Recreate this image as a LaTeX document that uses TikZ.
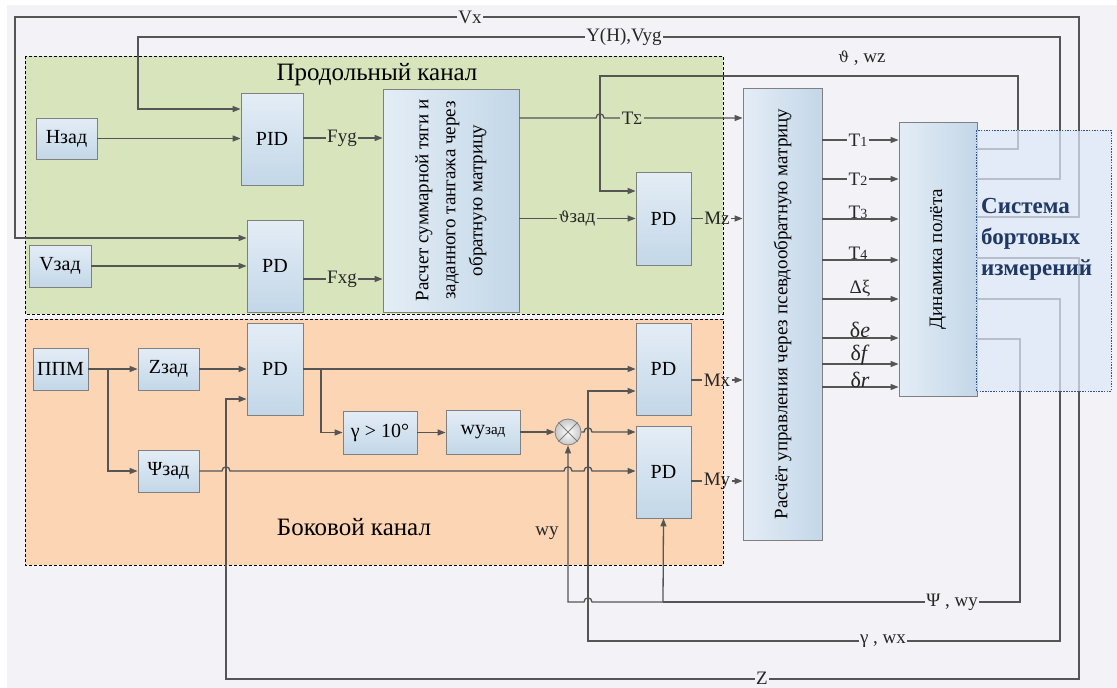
\documentclass[tikz,border=0pt]{standalone}
\usepackage{fontspec}
\setmainfont{Liberation Serif}
\newfontfamily\dvs{DejaVu Serif}
\usetikzlibrary{arrows.meta,calc}
\definecolor{bgc}{HTML}{F3F2F7}
\definecolor{grn}{HTML}{D8E4BC}
\definecolor{org}{HTML}{FCD5B4}
\definecolor{boxtop}{HTML}{E4EDF6}
\definecolor{boxbot}{HTML}{C3D7E8}
\definecolor{boxline}{HTML}{808080}
\definecolor{lc}{HTML}{555555}
\definecolor{sysfill}{HTML}{DCE9F8}
\definecolor{sysline}{HTML}{2F5597}
\definecolor{systext}{HTML}{1F3864}
\newcommand{\thsym}{{\dvs\fontsize{15}{15}\selectfont ϑ}}
\newcommand{\hopR}[2]{-- ({#1-4},#2) .. controls ({#1-4},{#2-5.5}) and ({#1+4},{#2-5.5}) .. ({#1+4},#2)}
\newcommand{\hopL}[2]{-- ({#1+4},#2) .. controls ({#1+4},{#2-5.5}) and ({#1-4},{#2-5.5}) .. ({#1-4},#2)}
\tikzset{
  blk/.style={draw=boxline, line width=0.8pt, top color=boxtop, bottom color=boxbot, inner sep=0pt, font=\fontsize{20}{22}\selectfont},
  vblk/.style={draw=boxline, line width=0.8pt, left color=boxtop, right color=boxbot, inner sep=0pt},
  ln/.style={draw=lc, line width=1.3pt},
  arr/.style={ln, -{Triangle[length=8pt,width=6pt]}},
  lab/.style={font=\fontsize{19}{21}\selectfont, inner sep=1.5pt, text=black!85},
  title/.style={font=\fontsize{25}{27}\selectfont},
  region/.style={draw=black, line width=0.9pt, dash pattern=on 3pt off 2pt},
  vtext/.style={rotate=90, align=center, font=\fontsize{19}{27}\selectfont}
}
\begin{document}
\begin{tikzpicture}[x=1pt,y=-1pt]
\useasboundingbox (0,0) rectangle (1117,688);
\fill[white] (0,0) rectangle (1117,688);
\fill[bgc] (7,5) rectangle (1117,688);
\draw[region, fill=grn] (25,56) rectangle (723,314);
\draw[region, fill=org] (25,319) rectangle (723,565);
\node[title] at (377,75) {Продольный канал};
\node[title] at (354,527) {Боковой канал};

% ---- blocks
\node[blk, minimum width=61, minimum height=41] (Hz) at (66.5,138.5) {Hзад};
\node[blk, minimum width=62, minimum height=92] (PID) at (272,139) {PID};
\node[blk, minimum width=62, minimum height=42] (Vz) at (60,266) {Vзад};
\node[blk, minimum width=56, minimum height=92] (PDx) at (275,266) {PD};
\node[vblk, minimum width=136, minimum height=223] (Calc) at (451,200.5) {};
\node[vtext] at (Calc) {Расчет суммарной тяги и\\заданного тангажа через\\обратную матрицу};
\node[blk, minimum width=55, minimum height=93] (PDz) at (663.5,218.5) {PD};
\node[vblk, minimum width=79, minimum height=452] (Pseudo) at (782.5,314) {};
\node[vtext] at (Pseudo) {Расчёт управления через псевдообратную матрицу};
\node[vblk, minimum width=78, minimum height=274] (Dyn) at (938,259) {};
\node[vtext] at (Dyn) {Динамика полёта};

\node[blk, minimum width=55, minimum height=42] (PPM) at (60.5,369) {ППМ};
\node[blk, minimum width=61, minimum height=42] (Zz) at (168.5,369) {Zзад};
\node[blk, minimum width=61, minimum height=42] (Psz) at (168.5,471) {Ψзад};
\node[blk, minimum width=56, minimum height=92] (PDl) at (275,369) {PD};
\node[blk, minimum width=74, minimum height=43] (Gam) at (380,432.5) {γ > 10°};
\node[blk, minimum width=74, minimum height=44] (Wyz) at (483,432) {wy{\fontsize{15}{15}\selectfont зад}};
\node[circle, draw=boxline, line width=0.8pt, minimum size=26, inner sep=0pt, inner color=white, outer color=black!22] (Mult) at (568,432) {};
\draw[boxline, line width=0.8pt] (Mult.north west) -- (Mult.south east) (Mult.north east) -- (Mult.south west);
\node[blk, minimum width=55, minimum height=92] (PDmx) at (663.5,369) {PD};
\node[blk, minimum width=55, minimum height=92] (PDmy) at (663.5,472) {PD};

% ---- longitudinal channel
\draw[arr] (Hz.east) -- (PID.west |- Hz.east);
\coordinate (fy) at (342,138);
\draw[arr] (PID.east |- fy) -- (Calc.west |- fy);
\node[lab, fill=grn] at (fy) {Fyg};
\draw[arr] (Vz.east) -- (PDx.west |- Vz.east);
\coordinate (fx) at (342,279);
\draw[arr] (PDx.east |- fx) -- (Calc.west |- fx);
\node[lab, fill=grn] at (fx) {Fxg};
\coordinate (ts) at (632,118);
\draw[arr] (Calc.east |- ts) \hopR{600}{118} -- (Pseudo.west |- ts);
\node[lab, fill=grn] at (ts) {T{\fontsize{15}{15}\selectfont Σ}};
\coordinate (thz) at (577,218.5);
\draw[arr] (Calc.east |- thz) -- (PDz.west |- thz);
\node[lab, fill=grn] at (thz) {\thsym зад};
\node[lab] (Mzl) at (717,218.5) {Mz};
\draw[ln] (PDz.east |- Mzl) -- (Mzl.west);
\draw[arr] (Mzl.east) -- (Pseudo.west |- Mzl);

% ---- lateral channel
\draw[arr] (PPM.east) -- (Zz.west);
\coordinate (br1) at (108,369);
\draw[arr] (br1) |- (Psz.west);
\draw[arr] (Zz.east) -- (PDl.west |- Zz.east);
\draw[arr] (PDl.east) -- (PDmx.west |- PDl.east);
\coordinate (br2) at (321,369);
\draw[arr] (br2) |- (Gam.west);
\draw[arr] (Gam.east) -- (Wyz.west |- Gam.east);
\draw[arr] (Wyz.east) -- (Mult.west);
\draw[arr] (Mult.east) \hopR{588}{432} -- (PDmy.west |- Mult.east);
\draw[arr] (Psz.east) \hopR{226}{471} \hopR{568}{471} \hopR{588}{471} -- (PDmy.west |- Psz.east);
\node[lab] (Mxl) at (717,380) {Mx};
\draw[ln] (PDmx.east |- Mxl) -- (Mxl.west);
\draw[arr] (Mxl.east) -- (Pseudo.west |- Mxl);
\node[lab] (Myl) at (717,481) {My};
\draw[ln] (PDmy.east |- Myl) -- (Myl.west);
\draw[arr] (Myl.east) -- (Pseudo.west |- Myl);
\node[lab] at (547,533) {wy};

% ---- pseudo -> dynamics
\coordinate (t1) at (858,140);
\coordinate (t2) at (858,179);
\coordinate (t3) at (858,219);
\coordinate (t4) at (858,260);
\coordinate (dx) at (860,299);
\coordinate (de) at (860,338);
\coordinate (df) at (860,364);
\coordinate (dr) at (860,387);
\foreach \c in {t1,t2,t3,t4,dx,de,df,dr}{
  \draw[arr] (Pseudo.east |- \c) -- (Dyn.west |- \c);
}
\node[lab, fill=bgc] at (t1) {T{\fontsize{14}{14}\selectfont 1}};
\node[lab, fill=bgc] at (t2) {T{\fontsize{14}{14}\selectfont 2}};
\node[lab, anchor=south] at ($(t3)+(0,1)$) {T{\fontsize{14}{14}\selectfont 3}};
\node[lab, anchor=south] at ($(t4)+(0,1)$) {T{\fontsize{14}{14}\selectfont 4}};
\node[lab, anchor=south] at ($(dx)+(0,0)$) {Δξ};
\node[lab, anchor=south, font=\fontsize{22}{22}\selectfont] at ($(de)+(0,1)$) {δ\textit{e}};
\node[lab, anchor=south, font=\fontsize{22}{22}\selectfont, inner sep=0pt] at ($(df)+(0,1)$) {δ\textit{f}};
\node[lab, anchor=south, font=\fontsize{22}{22}\selectfont, inner sep=0pt] at ($(dr)+(0,1)$) {δ\textit{r}};

% ---- feedback lines
\coordinate (vxA) at (1079,217); \coordinate (vxB) at (1079,17);
\coordinate (vxC) at (15,17);    \coordinate (vxD) at (15,238);
\draw[arr] (Dyn.east |- vxA) -- (vxA) -- (vxB) -- (vxC) -- (vxD) -- (PDx.west |- vxD);
\node[lab, fill=bgc] at (470,17) {Vx};

\coordinate (yhA) at (1060,179); \coordinate (yhB) at (1060,37);
\coordinate (yhC) at (138,37);   \coordinate (yhD) at (138,109);
\draw[arr] (Dyn.east |- yhA) -- (yhA) -- (yhB) -- (yhC) -- (yhD) -- (PID.west |- yhD);
\node[lab, fill=bgc] at (624,37) {Y(H),Vyg};

\coordinate (thA) at (1018,149); \coordinate (thB) at (1018,76);
\coordinate (thC) at (600,76);   \coordinate (thD) at (600,191);
\draw[arr] (Dyn.east |- thA) -- (thA) -- (thB) -- (thC) -- (thD) -- (PDz.west |- thD);
\node[lab] at (862,58) {\thsym\ , wz};

\coordinate (zA) at (1079,258); \coordinate (zB) at (1079,679);
\coordinate (zC) at (226,679);  \coordinate (zD) at (226,399);
\draw[arr] (Dyn.east |- zA) -- (zA) -- (zB) -- (zC) -- (zD) -- (PDl.west |- zD);
\node[lab, fill=bgc, inner sep=1pt] at (762,678) {Z};

\coordinate (gA) at (1060,299); \coordinate (gB) at (1060,641);
\coordinate (gC) at (588,641);  \coordinate (gD) at (588,391);
\draw[arr] (Dyn.east |- gA) -- (gA) -- (gB) -- (gC) -- (gD) -- (PDmx.west |- gD);
\node[lab, fill=bgc] at (883,641) {γ , wx};

\coordinate (pA) at (1020,339); \coordinate (pB) at (1020,602);
\coordinate (pM) at (663,602);  \coordinate (pC) at (568,602);
\draw[ln] (Dyn.east |- pA) -- (pA) -- (pB) -- (pM);
\draw[arr] (pM) \hopL{588}{602} -- (pC) -- (Mult.south);
\draw[arr] (pM) -- (PDmy.south);
\node[lab, fill=bgc] at (952,602) {Ψ , wy};

% ---- measurement system
\draw[draw=sysline, line width=1pt, dash pattern=on 1.5pt off 1.2pt, fill=sysfill, fill opacity=0.72] (976,130) rectangle (1111,391);
\node[anchor=west, align=left, text=systext, font=\fontsize{23}{31}\selectfont\bfseries, inner sep=0pt] (Sys) at (981,239) {Система\\бортовых\\измерений};
\end{tikzpicture}
\end{document}
